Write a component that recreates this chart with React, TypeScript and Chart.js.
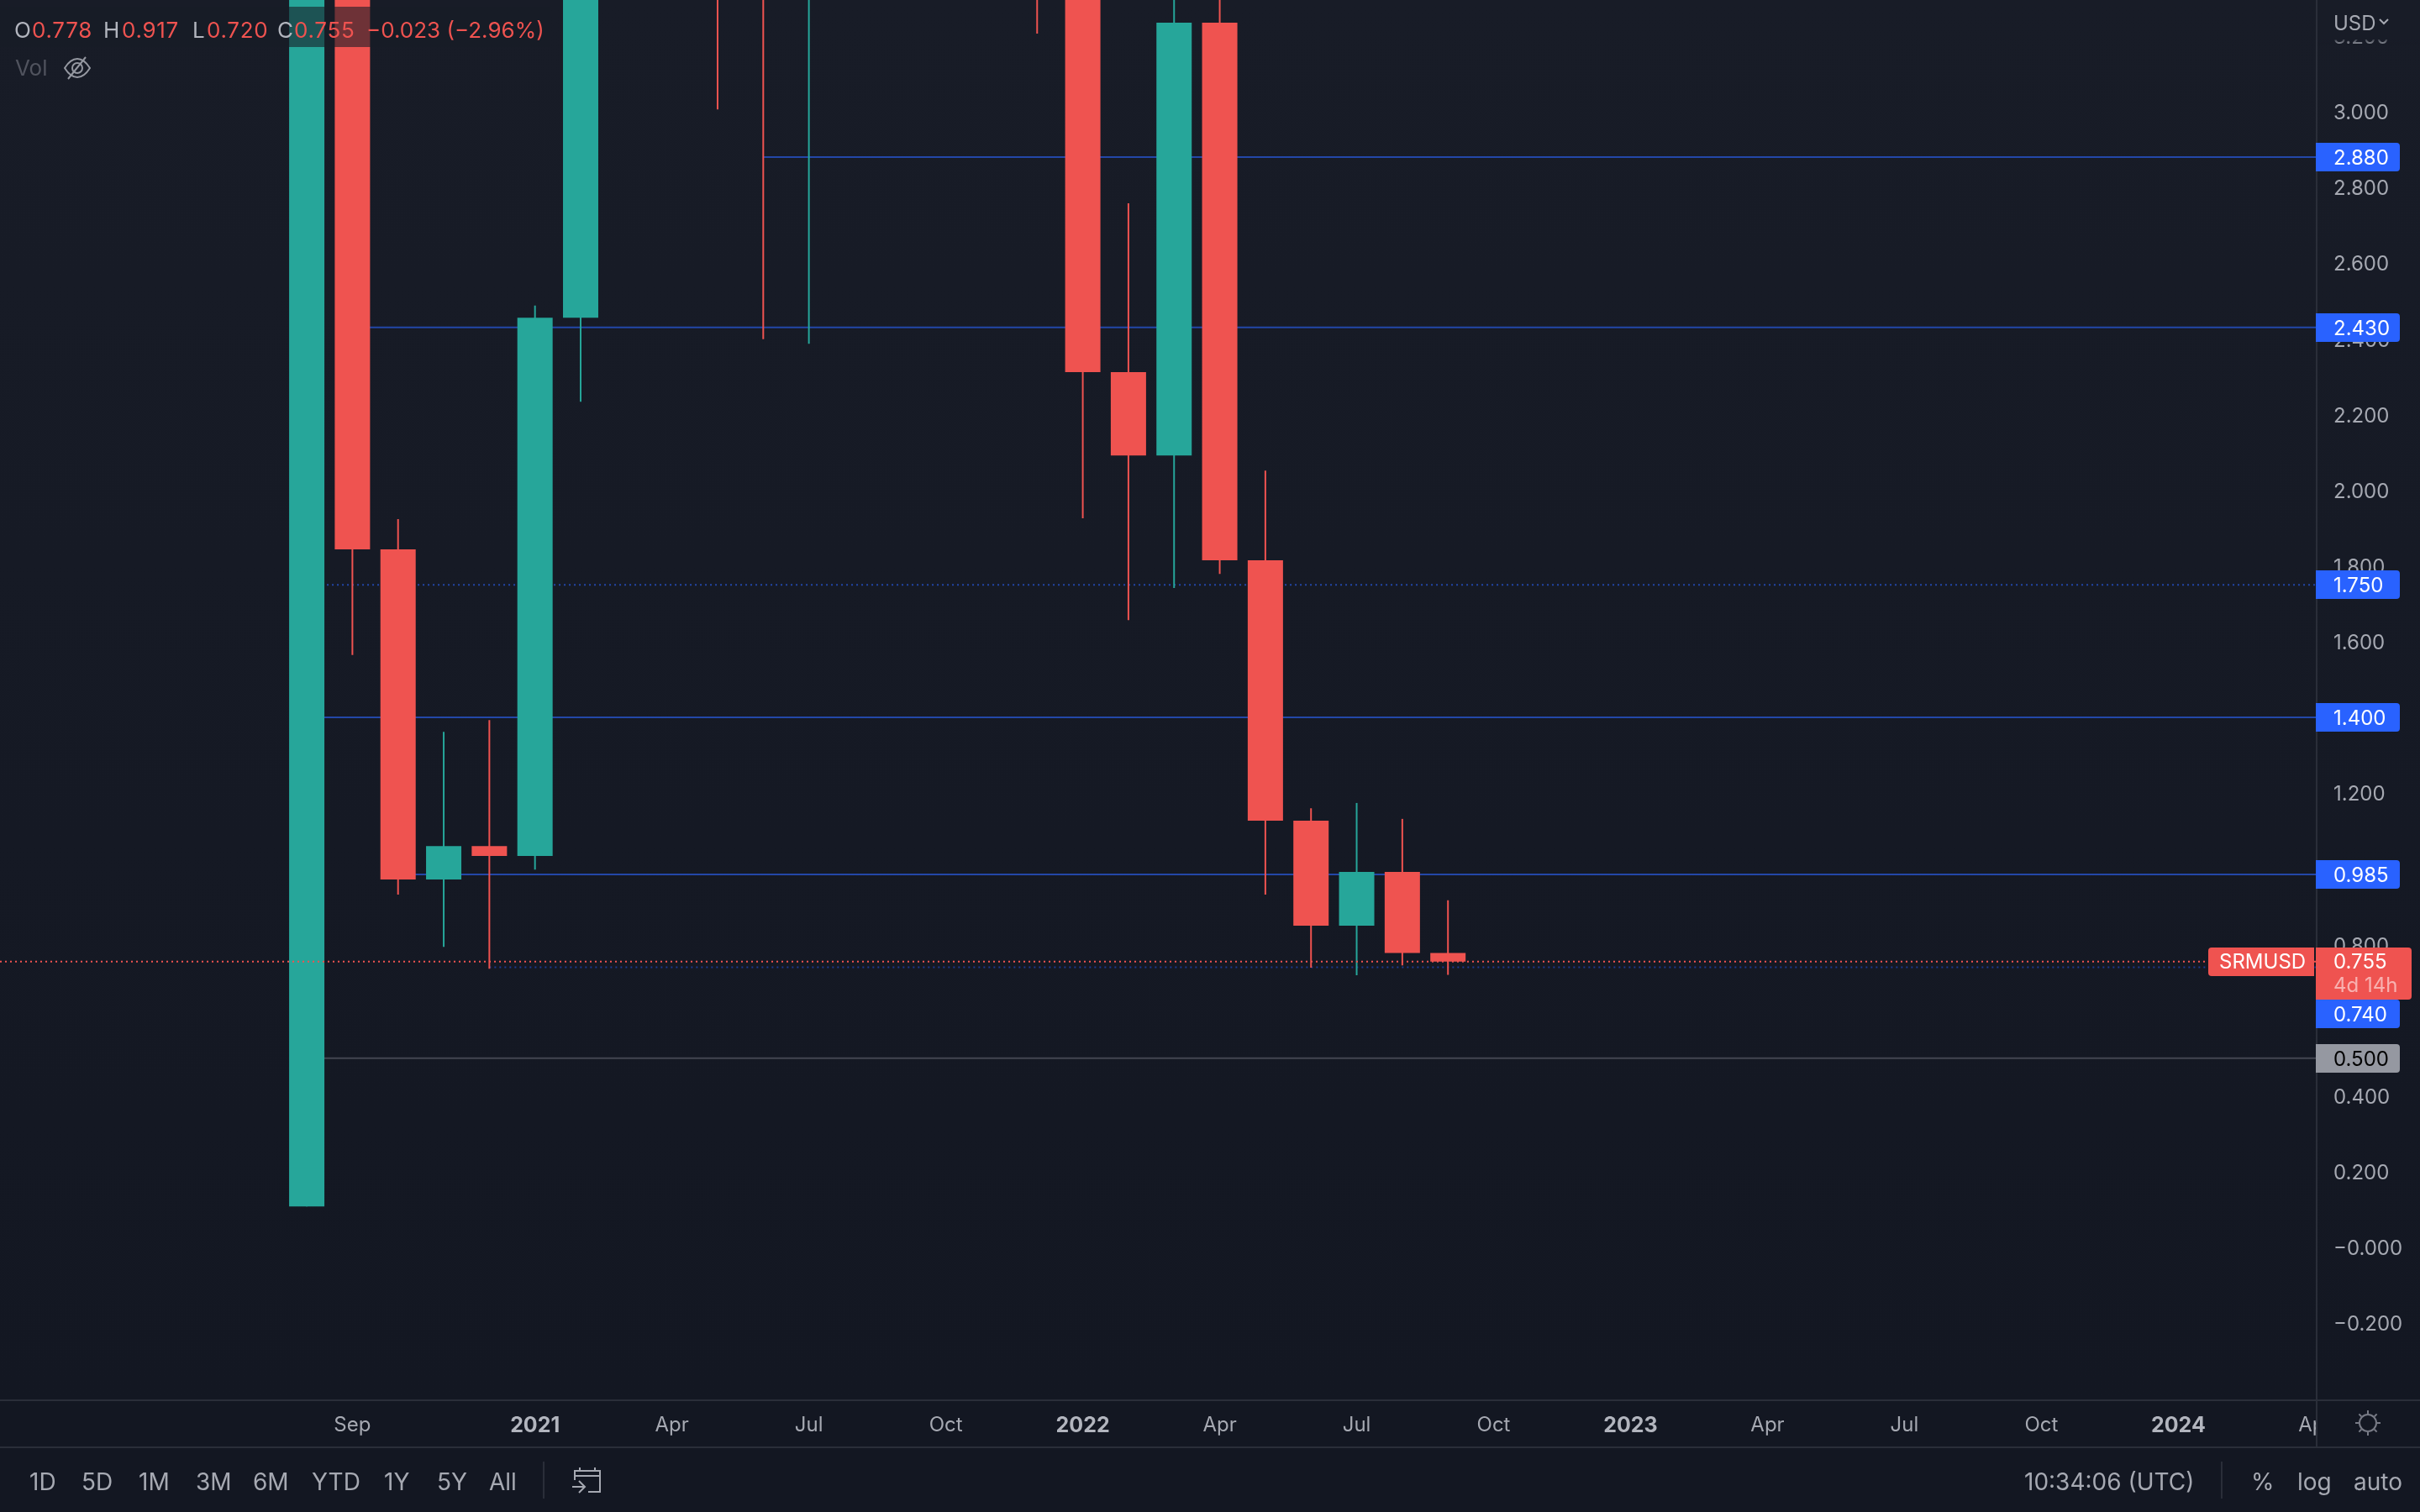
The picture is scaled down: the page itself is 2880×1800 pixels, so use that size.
import React, { useEffect, useRef } from "react";
import { Chart, registerables } from "chart.js";

Chart.register(...registerables);

const months = ["2020-08","2020-09","2020-10","2020-11","2020-12","2021-01","2021-02","2021-03","2021-04","2021-05","2021-06","2021-07","2021-08","2021-09","2021-10","2021-11","2021-12","2022-01","2022-02","2022-03","2022-04","2022-05","2022-06","2022-07","2022-08","2022-09"];
const opens  = [0.108,4.6,1.844,0.972,1.06,1.034,2.456,6.1,7.3,10.4,8.2,6.1,7.0,9.6,8.4,9.7,6.0,4.1,2.312,2.092,3.235,1.815,1.127,0.85,0.992,0.778];
const highs  = [4.9,5.2,1.924,1.362,1.393,2.488,7.4,8.6,13.0,13.7,8.9,8.1,10.2,13.0,10.0,13.3,6.9,4.5,2.758,3.6,3.5,2.052,1.16,1.174,1.132,0.917];
const lows   = [0.108,1.565,0.932,0.794,0.736,0.998,2.234,4.9,4.7,3.006,2.399,2.387,5.9,6.6,6.9,5.4,3.206,1.926,1.657,1.742,1.779,0.932,0.739,0.719,0.745,0.72];
const closes = [4.6,1.844,0.972,1.06,1.034,2.456,6.1,7.3,10.4,8.2,6.1,7.0,9.6,8.4,9.7,6.0,4.1,2.312,2.092,3.235,1.815,1.127,0.85,0.992,0.778,0.755];

const levelValues = [2.88, 2.43, 1.75, 1.4, 0.985, 0.74, 0.5];
const levelStarts = [10, 1, 0, 0, 2, 4, 0];
const levelDotted = [false, false, true, false, false, true, false];
const lastPrice = 0.755;

const priceTicks = [3.2,3.0,2.8,2.6,2.4,2.2,2.0,1.8,1.6,1.4,1.2,1.0,0.8,0.6,0.4,0.2,0,-0.2];
const timeTickIndex = [1,5,8,11,14,17,20,23,26,29,32,35,38,41,44];
const timeTickLabels = ["Sep","2021","Apr","Jul","Oct","2022","Apr","Jul","Oct","2023","Apr","Jul","Oct","2024","Apr"];

const rangeButtons = ["1D","5D","1M","3M","6M","YTD","1Y","5Y","All"];
const rangeButtonX = [35,97,165,233,301,371,457,520,582];

const UP = "#26a69a";
const DOWN = "#ef5350";
const GREY = "#a6a9b2";
const LINE = "#2a2e39";
const FONT = "Inter, sans-serif";
const X_MIN = -6.72;
const X_MAX = 44.03;

const isUp = (i: number) => closes[i] >= opens[i];

const tagsPlugin = {
  id: "tags",
  afterDraw(chart: any) {
    const { ctx, scales } = chart;
    const y = scales.y;
    ctx.save();
    // price scale head, with the fade under it
    ctx.fillStyle = "#181c27";
    ctx.fillRect(2758, 0, 122, 47);
    const fade = ctx.createLinearGradient(0, 47, 0, 54);
    fade.addColorStop(0, "rgba(24,28,39,0.75)");
    fade.addColorStop(1, "rgba(24,28,39,0)");
    ctx.fillStyle = fade;
    ctx.fillRect(2758, 47, 122, 7);
    ctx.fillStyle = GREY;
    ctx.font = `24px ${FONT}`;
    ctx.textBaseline = "middle";
    ctx.textAlign = "left";
    ctx.fillText("USD", 2777, 29);
    ctx.strokeStyle = GREY;
    ctx.lineWidth = 2;
    ctx.beginPath();
    ctx.moveTo(2832, 23);
    ctx.lineTo(2837, 28);
    ctx.lineTo(2842, 23);
    ctx.stroke();
    // bottom of the price scale, covers what runs past the time axis
    ctx.fillStyle = "#131722";
    ctx.fillRect(2758, 1668, 122, 54);
    // frame lines
    ctx.fillStyle = LINE;
    ctx.fillRect(0, 1666, 2880, 2);
    ctx.fillRect(0, 1722, 2880, 2);
    ctx.fillRect(2756, 0, 2, 1723);
    // sun icon
    ctx.strokeStyle = "#787b86";
    ctx.lineWidth = 2;
    ctx.beginPath();
    ctx.arc(2818, 1694, 10, 0, Math.PI * 2);
    ctx.stroke();
    [0, 1, 2, 3, 4, 5, 6, 7].forEach((k) => {
      const a = (k * Math.PI) / 4;
      ctx.beginPath();
      ctx.moveTo(2818 + Math.cos(a) * 11, 1694 + Math.sin(a) * 11);
      ctx.lineTo(2818 + Math.cos(a) * 15, 1694 + Math.sin(a) * 15);
      ctx.stroke();
    });
    // level tags
    const priceY = y.getPixelForValue(lastPrice);
    const priceTop = Math.round(priceY) - 17;
    const priceBottom = priceTop + 62;
    ctx.font = `24px ${FONT}`;
    levelValues.forEach((v) => {
      let c = Math.round(y.getPixelForValue(v));
      if (c + 17 > priceTop && c - 17 < priceBottom) c = priceBottom + 17;
      const grey = v === 0.5;
      ctx.fillStyle = grey ? "#9598a1" : "#2962ff";
      ctx.beginPath();
      ctx.roundRect(2756, c - 17, 100, 34, [0, 4, 4, 0]);
      ctx.fill();
      ctx.fillStyle = grey ? "#000000" : "#ffffff";
      ctx.fillText(v.toFixed(3), 2777, c + 2);
    });
    // last price tag
    ctx.fillStyle = DOWN;
    ctx.beginPath();
    ctx.roundRect(2756, priceTop, 114, 62, [0, 4, 4, 0]);
    ctx.fill();
    ctx.beginPath();
    ctx.roundRect(2628, priceTop, 126, 34, [4, 0, 0, 4]);
    ctx.fill();
    ctx.fillStyle = "#ffffff";
    ctx.fillText(lastPrice.toFixed(3), 2777, priceTop + 18);
    ctx.fillText("SRMUSD", 2641, priceTop + 18);
    ctx.fillStyle = "rgba(255,255,255,0.55)";
    ctx.fillText("4d 14h", 2777, priceTop + 46);
    ctx.restore();
  },
};

function Text({ x, y, color, children, size = 28, weight = 400, spacing = 0 }: any) {
  return (
    <span
      style={{
        position: "absolute",
        left: x,
        top: y,
        color,
        fontFamily: FONT,
        fontSize: size,
        fontWeight: weight,
        letterSpacing: spacing,
        lineHeight: "32px",
        whiteSpace: "pre",
      }}
    >
      {children}
    </span>
  );
}

export default function App() {
  const ref = useRef<HTMLCanvasElement>(null);

  useEffect(() => {
    document.body.style.margin = "0";
    document.body.style.background = "#131722";
    const wicks = months.map((_, i) => ({ x: i, y: [lows[i], highs[i]] }));
    const bodies = months.map((_, i) => ({ x: i, y: [Math.min(opens[i], closes[i]), Math.max(opens[i], closes[i])] }));
    const colors = months.map((_, i) => (isUp(i) ? UP : DOWN));

    const levelSets = levelValues.map((v, k) => ({
      type: "line" as const,
      label: `Level ${v}`,
      data: [{ x: levelStarts[k], y: v }, { x: X_MAX, y: v }],
      borderColor: v === 0.5 ? "#434651" : v === 0.74 ? "#1d3a8f" : "#2347a8",
      borderWidth: 2,
      borderDash: levelDotted[k] ? [2, 4] : [],
      pointRadius: 0,
      order: 5,
    }));

    const chart = new Chart(ref.current!, {
      type: "bar",
      data: {
        datasets: [
          {
            type: "line",
            label: "Last price",
            data: [{ x: X_MIN, y: lastPrice }, { x: X_MAX, y: lastPrice }],
            borderColor: DOWN,
            borderWidth: 2,
            borderDash: [2, 4],
            pointRadius: 0,
            order: 1,
          },
          {
            label: "Body",
            data: bodies,
            backgroundColor: colors,
            barThickness: 42,
            grouped: false,
            borderWidth: 0,
            inflateAmount: 0,
            order: 2,
          },
          {
            label: "Wick",
            data: wicks,
            backgroundColor: colors,
            barThickness: 2,
            grouped: false,
            borderWidth: 0,
            inflateAmount: 0,
            order: 3,
          },
          ...levelSets,
        ] as any,
      },
      options: {
        animation: false,
        responsive: false,
        devicePixelRatio: 1,
        layout: { padding: 0 },
        plugins: { legend: { display: false }, tooltip: { enabled: false } },
        scales: {
          x: {
            type: "linear",
            min: X_MIN,
            max: X_MAX,
            offset: false,
            grid: { display: false, drawTicks: false },
            border: { display: false },
            afterBuildTicks(scale: any) {
              scale.ticks = timeTickIndex.map((value) => ({ value }));
            },
            afterFit(scale: any) {
              scale.height = 134;
              scale.paddingLeft = 0;
              scale.paddingRight = 0;
            },
            ticks: {
              autoSkip: false,
              maxRotation: 0,
              minRotation: 0,
              padding: 16,
              color: (c: any) => (timeTickIndex.indexOf(c.tick?.value) >= 0 && /^\d/.test(timeTickLabels[timeTickIndex.indexOf(c.tick.value)]) ? "#b2b5be" : GREY),
              font: (c: any) => {
                const k = timeTickIndex.indexOf(c.tick?.value);
                const year = k >= 0 && /^\d/.test(timeTickLabels[k]);
                return { family: FONT, size: year ? 25 : 24, weight: year ? 700 : 400 } as any;
              },
              callback: (v: any) => timeTickLabels[timeTickIndex.indexOf(Number(v))] ?? "",
            },
          },
          y: {
            type: "linear",
            position: "right",
            min: -0.4015,
            max: 3.295,
            grid: { display: false, drawTicks: false },
            border: { display: false },
            afterBuildTicks(scale: any) {
              scale.ticks = priceTicks.map((value) => ({ value }));
            },
            afterFit(scale: any) {
              scale.width = 123;
              scale.paddingTop = 0;
              scale.paddingBottom = 0;
            },
            ticks: {
              autoSkip: false,
              padding: 20,
              labelOffset: 2,
              crossAlign: "near",
              color: GREY,
              font: { family: FONT, size: 24 },
              callback: (v: any) => {
                const n = Number(v);
                return n <= 0 ? "\u2212" + Math.abs(n).toFixed(3) : n.toFixed(3);
              },
            },
          },
        },
      } as any,
      plugins: [tagsPlugin as any],
    });
    return () => chart.destroy();
  }, []);

  return (
    <div
      style={{
        position: "fixed",
        left: 0,
        top: 0,
        width: 2880,
        height: 1800,
        overflow: "hidden",
        background: "linear-gradient(#181c27 0, #131722 1667px)",
      }}
    >
      <canvas ref={ref} width={2880} height={1800} style={{ position: "absolute", left: 0, top: 0, display: "block" }} />

      <div style={{ position: "absolute", left: 0, top: 8, width: 655, height: 48, background: "rgba(24,28,39,0.6)" }} />
      <Text x={17} y={20} size={26} color="#b2b5be">O</Text>
      <Text x={38} y={20} size={26} spacing={0.7} color={DOWN}>0.778</Text>
      <Text x={123} y={20} size={26} color="#b2b5be">H</Text>
      <Text x={145} y={20} size={26} spacing={0.7} color={DOWN}>0.917</Text>
      <Text x={229} y={20} size={26} color="#b2b5be">L</Text>
      <Text x={246} y={20} size={26} spacing={0.7} color={DOWN}>0.720</Text>
      <Text x={330} y={20} size={26} color="#b2b5be">C</Text>
      <Text x={350} y={20} size={26} spacing={0.7} color={DOWN}>0.755</Text>
      <Text x={436} y={20} size={26} color={DOWN}>{"\u22120.023 (\u22122.96%)"}</Text>
      <Text x={18} y={65} size={26} color="#50535e">Vol</Text>
      <svg style={{ position: "absolute", left: 74, top: 66 }} width="36" height="30" viewBox="0 0 36 30" fill="none" stroke="#9598a1" strokeWidth="2">
        <path d="M3 15 C8 7 13 4 18 4 C23 4 28 7 33 15 C28 23 23 26 18 26 C13 26 8 23 3 15 Z" />
        <circle cx="18" cy="15" r="6" />
        <path d="M28 2 L7 28" />
      </svg>

      {rangeButtons.map((b, i) => (
        <Text key={b} x={rangeButtonX[i]} y={1748} color={GREY}>{b}</Text>
      ))}
      <div style={{ position: "absolute", left: 646, top: 1740, width: 2, height: 44, background: LINE }} />
      <svg style={{ position: "absolute", left: 680, top: 1746 }} width="36" height="32" viewBox="0 0 36 32" fill="none" stroke="#a6a9b2" strokeWidth="2">
        <path d="M4 16 V5 H34 V30 H20" />
        <path d="M4 11 H34" />
        <path d="M10 1 V5 M28 1 V5" />
        <path d="M1 24 H15 M9 17 L16 24 L9 31" />
      </svg>
      <Text x={2409} y={1748} color={GREY}>10:34:06 (UTC)</Text>
      <div style={{ position: "absolute", left: 2643, top: 1740, width: 2, height: 44, background: LINE }} />
      <Text x={2679} y={1748} color={GREY}>%</Text>
      <Text x={2734} y={1748} color={GREY}>log</Text>
      <Text x={2801} y={1748} color={GREY}>auto</Text>
    </div>
  );
}
